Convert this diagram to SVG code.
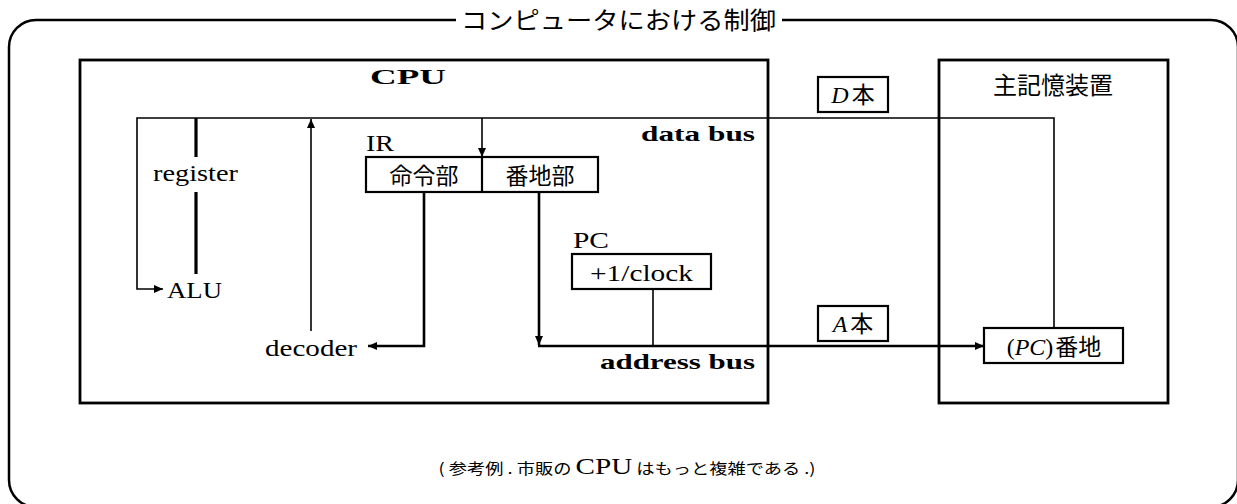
<svg xmlns="http://www.w3.org/2000/svg" width="1237" height="504" viewBox="0 0 1237 504">
<defs>
<style>
.frame{fill:none;stroke:#000;stroke-width:2.5}
.box{fill:#fff;stroke:#000;stroke-width:2.2}
.big{fill:none;stroke:#000;stroke-width:2.8}
.thin{fill:none;stroke:#000;stroke-width:1.6}
.thick{fill:none;stroke:#000;stroke-width:2.6}
.reg{fill:none;stroke:#000;stroke-width:3.2}
.serif{font-family:"Liberation Serif","DejaVu Serif",serif;font-size:24px;fill:#000}
.bold{font-family:"Liberation Serif","DejaVu Serif",serif;font-weight:bold;font-size:22px;fill:#000}
.jp{font-family:"Noto Sans CJK JP","Noto Sans",sans-serif;fill:#000}
.it{font-style:italic}
</style>
<marker id="ah" markerUnits="userSpaceOnUse" markerWidth="10" markerHeight="8" refX="9" refY="4" orient="auto">
<path d="M0,0 L9,4 L0,8 Z" fill="#000"/>
</marker>
</defs>

<g id="outer-frame">
<path class="frame" d="M456,20 H36 A27,27 0 0 0 9,47 V480 A27,27 0 0 0 36,507 H1211 A27,27 0 0 0 1238,480 V47 A27,27 0 0 0 1211,20 H782"/>
<text class="jp" x="461" y="29" font-size="24" textLength="315" lengthAdjust="spacingAndGlyphs">コンピュータにおける制御</text>
</g>

<g id="cpu">
<rect class="big" x="80" y="60" width="688" height="343"/>
<text class="bold" x="408" y="84" text-anchor="middle" font-size="24" textLength="76" lengthAdjust="spacingAndGlyphs">CPU</text>
</g>

<g id="memory">
<rect class="big" x="939" y="60" width="229" height="343"/>
<text class="jp" x="1053" y="94" font-size="24" text-anchor="middle">主記憶装置</text>
</g>

<g id="connectors">
<path class="thin" d="M1054,328 V118 H137 V289 H163" marker-end="url(#ah)"/>
<path class="reg" d="M196,118 V157 M196,192 V274"/>
<path class="thin" d="M311,331 V119" marker-end="url(#ah)"/>
<path class="thin" d="M482,118 V157" marker-end="url(#ah)"/>
<path class="thick" d="M424,192 V346 H368" marker-end="url(#ah)"/>
<path class="thick" d="M539,192 V345" marker-end="url(#ah)"/>
<path class="thick" d="M538,346 H984" marker-end="url(#ah)"/>
<path class="thin" d="M653,289 V346"/>
</g>

<g id="register">
<text class="serif" x="153" y="181" textLength="85" lengthAdjust="spacingAndGlyphs">register</text>
</g>
<g id="alu">
<text class="serif" x="167" y="298" textLength="55" lengthAdjust="spacingAndGlyphs">ALU</text>
</g>
<g id="decoder">
<text class="serif" x="265" y="356" textLength="92" lengthAdjust="spacingAndGlyphs">decoder</text>
</g>

<g id="ir">
<text class="serif" x="366" y="151" textLength="28" lengthAdjust="spacingAndGlyphs">IR</text>
<rect class="box" x="366" y="157" width="232" height="35"/>
<line class="box" x1="482" y1="157" x2="482" y2="192"/>
<text class="jp" x="424" y="184" font-size="23" text-anchor="middle">命令部</text>
<text class="jp" x="540" y="184" font-size="23" text-anchor="middle">番地部</text>
</g>

<g id="pc">
<text class="serif" x="573" y="248" textLength="36" lengthAdjust="spacingAndGlyphs">PC</text>
<rect class="box" x="572" y="254" width="139" height="35"/>
<text class="serif" x="590" y="281" textLength="103" lengthAdjust="spacingAndGlyphs">+1/clock</text>
</g>

<g id="data-bus-label">
<text class="bold" x="755" y="141" text-anchor="end" textLength="114" lengthAdjust="spacingAndGlyphs">data bus</text>
</g>
<g id="address-bus-label">
<text class="bold" x="755" y="369" text-anchor="end" textLength="155" lengthAdjust="spacingAndGlyphs">address bus</text>
</g>

<g id="d-lines">
<rect class="box" x="818" y="77" width="70" height="35"/>
<text x="853" y="103" text-anchor="middle"><tspan class="serif it">D</tspan><tspan class="jp" font-size="23" dx="3">本</tspan></text>
</g>
<g id="a-lines">
<rect class="box" x="818" y="306" width="70" height="35"/>
<text x="853" y="332" text-anchor="middle"><tspan class="serif it">A</tspan><tspan class="jp" font-size="23" dx="3">本</tspan></text>
</g>

<g id="pc-address">
<rect class="box" x="984" y="328" width="139" height="35"/>
<text x="1054" y="355" text-anchor="middle"><tspan class="serif">(</tspan><tspan class="serif it">PC</tspan><tspan class="serif">)</tspan><tspan class="jp" font-size="23" dx="2">番地</tspan></text>
</g>

<g id="caption">
<text x="627" y="474" text-anchor="middle" textLength="377" lengthAdjust="spacingAndGlyphs"><tspan class="jp" font-size="15">( 参考例 . 市販の </tspan><tspan class="serif" font-size="15">CPU</tspan><tspan class="jp" font-size="15"> はもっと複雑である .)</tspan></text>
</g>
</svg>
